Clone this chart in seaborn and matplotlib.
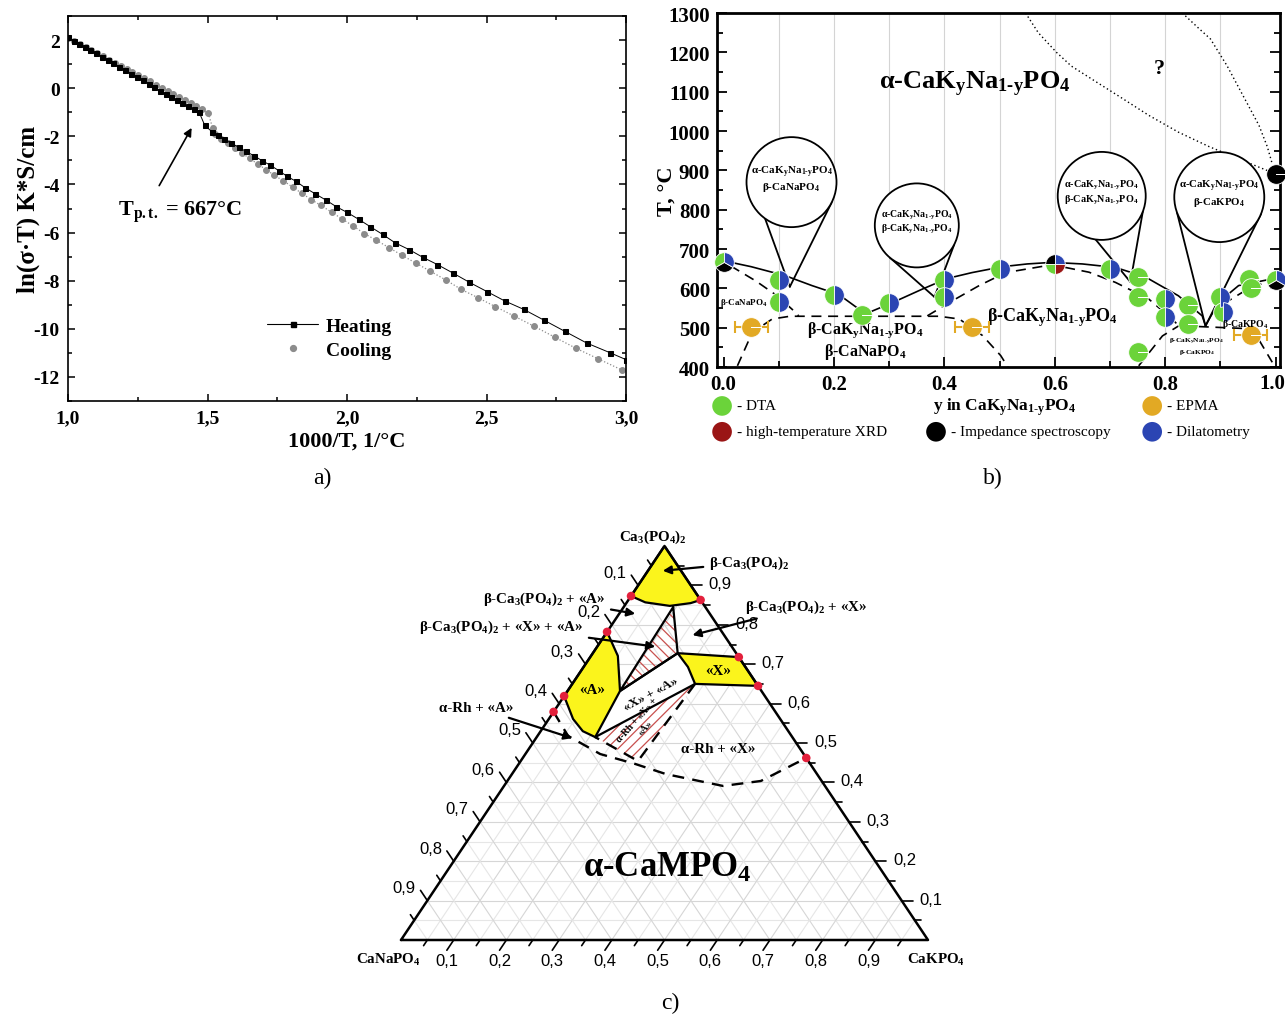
import numpy as np
import matplotlib
matplotlib.use("Agg")
import matplotlib.pyplot as plt
import seaborn as sns
from matplotlib.path import Path
from matplotlib.patches import Polygon, Ellipse
from matplotlib.lines import Line2D
from matplotlib.ticker import MultipleLocator
import matplotlib.transforms as mtrans

# ======================= panel a data =======================
heat_x = [1.000, 1.020, 1.040, 1.060, 1.080, 1.100, 1.121, 1.142, 1.163, 1.184,
          1.205, 1.226, 1.247, 1.268, 1.289, 1.310, 1.330, 1.350, 1.370, 1.390,
          1.410, 1.430, 1.450, 1.470, 1.490, 1.515, 1.537, 1.560, 1.585, 1.612,
          1.638, 1.667, 1.695, 1.725, 1.756, 1.785, 1.817, 1.849, 1.886, 1.923,
          1.961, 2.000, 2.042, 2.084, 2.128, 2.173, 2.223, 2.272, 2.324, 2.381,
          2.439, 2.503, 2.565, 2.633, 2.706, 2.780, 2.859, 2.944, 3.000]
heat_y = [2.12, 1.98, 1.85, 1.71, 1.58, 1.45, 1.31, 1.17, 1.03, 0.89,
          0.75, 0.61, 0.47, 0.33, 0.19, 0.04, -0.10, -0.23, -0.37, -0.51,
          -0.63, -0.76, -0.88, -1.00, -1.54, -1.80, -1.96, -2.13, -2.29, -2.45,
          -2.63, -2.81, -3.01, -3.20, -3.43, -3.66, -3.87, -4.13, -4.39, -4.64,
          -4.92, -5.16, -5.45, -5.76, -6.08, -6.43, -6.71, -7.03, -7.33, -7.69,
          -8.07, -8.46, -8.84, -9.19, -9.64, -10.10, -10.59, -11.00, -11.28]
cool_x = [1.000, 1.021, 1.042, 1.063, 1.084, 1.105, 1.126, 1.147, 1.168, 1.189,
          1.210, 1.231, 1.252, 1.273, 1.294, 1.315, 1.336, 1.357, 1.378, 1.399,
          1.420, 1.440, 1.460, 1.480, 1.503, 1.518, 1.526, 1.548, 1.572, 1.597,
          1.624, 1.652, 1.680, 1.710, 1.739, 1.772, 1.805, 1.837, 1.872, 1.906,
          1.946, 1.983, 2.021, 2.062, 2.105, 2.151, 2.198, 2.247, 2.299, 2.354,
          2.409, 2.468, 2.532, 2.599, 2.670, 2.745, 2.819, 2.899, 2.985]
cool_y = [2.10, 1.97, 1.84, 1.71, 1.58, 1.45, 1.32, 1.19, 1.06, 0.93,
          0.80, 0.67, 0.54, 0.41, 0.28, 0.15, 0.02, -0.11, -0.23, -0.36,
          -0.49, -0.61, -0.73, -0.86, -1.05, -1.64, -1.89, -2.10, -2.29, -2.50,
          -2.71, -2.92, -3.16, -3.38, -3.62, -3.85, -4.11, -4.36, -4.63, -4.87,
          -5.16, -5.44, -5.72, -6.04, -6.32, -6.63, -6.95, -7.27, -7.61, -7.97,
          -8.36, -8.70, -9.08, -9.47, -9.89, -10.35, -10.80, -11.24, -11.71]
a_xticks = [1.0, 1.5, 2.0, 2.5, 3.0]
a_xticklabels = ["1,0", "1,5", "2,0", "2,5", "3,0"]
a_yticks = [-12, -10, -8, -6, -4, -2, 0, 2]

# ======================= panel b data =======================
dta_x = [0.25, 0.75, 0.75, 0.75, 0.842, 0.842, 0.952, 0.955]
dta_T = [531, 629, 578, 438, 558, 510, 624, 600]
dil_x = [0.1, 0.1, 0.2, 0.3, 0.4, 0.4, 0.5, 0.7, 0.8, 0.8, 0.9, 0.905]
dil_T = [620, 565, 582, 563, 620, 578, 650, 650, 574, 527, 578, 540]
tri_x = [0.0, 1.0]
tri_T = [667, 620]
quad_x = [0.6]
quad_T = [662]
imp_x = [1.0]
imp_T = [890]
epma_x = [0.05, 0.45, 0.955]
epma_T = [502, 502, 482]
epma_err = [0.03, 0.03, 0.03]

solid_x = [0.0, 0.05, 0.112, 0.16, 0.209, 0.257, 0.308, 0.36, 0.405, 0.45, 0.505,
           0.55, 0.595, 0.65, 0.71, 0.764, 0.824, 0.867, 0.873, 0.897, 0.933, 0.994, 1.0]
solid_T = [670, 655, 632, 607, 584, 535, 565, 598, 625, 640, 655,
           662, 666, 662, 653, 629, 581, 530, 505, 565, 607, 624, 624]
dash1_x = [0.0127, 0.058, 0.097, 0.127, 0.136]
dash1_T = [657, 619, 581, 543, 530]
dash2_x = [0.025, 0.052, 0.088, 0.12, 0.39, 0.427, 0.469, 0.502, 0.515]
dash2_T = [403, 488, 522, 529, 529, 522, 480, 429, 400]
dash3_x = [0.369, 0.414, 0.463, 0.511, 0.595, 0.662, 0.71, 0.77, 0.795, 0.825,
           0.958, 0.994]
dash3_T = [530, 568, 607, 640, 660, 641, 615, 573, 543, 505, 497, 412]
dash4_x = [0.752, 0.795, 0.825]
dash4_T = [403, 479, 505]
dash5_x = [0.905, 0.94, 0.975, 1.0]
dash5_T = [560, 590, 612, 622]
dot1_x = [0.547, 0.57, 0.603, 0.63, 0.676, 0.72, 0.77, 0.824, 0.88, 0.934, 0.97, 1.0]
dot1_T = [1300, 1250, 1200, 1165, 1124, 1085, 1040, 997, 960, 929, 908, 891]
dot2_x = [0.831, 0.86, 0.882, 0.912, 0.941, 0.97, 0.985, 0.993]
dot2_T = [1300, 1262, 1234, 1166, 1090, 1014, 960, 921]
b_grid_x = [0.1, 0.2, 0.3, 0.4, 0.5, 0.6, 0.7, 0.8, 0.9]
b_xticks = [0.0, 0.2, 0.4, 0.6, 0.8, 1.0]
b_xticklabels = ["0.0", "0.2", "0.4", "0.6", "0.8", "1.0"]

# ======================= panel c data (b = CaKPO4, c = Ca3(PO4)2) =======================
beta_b = [0.0, 0.0, 0.035, 0.086, 0.122, 0.137]
beta_c = [1.0, 0.873, 0.857, 0.848, 0.855, 0.863]
regA_b = [0.0, 0.0, 0.046, 0.080, 0.111, 0.0996, 0.051]
regA_c = [0.782, 0.619, 0.561, 0.530, 0.515, 0.632, 0.721]
regX_b = [0.161, 0.282, 0.355, 0.233, 0.198]
regX_c = [0.728, 0.718, 0.645, 0.650, 0.693]
hat1_b = [0.094, 0.161, 0.0996]
hat1_c = [0.845, 0.728, 0.632]
band_b = [0.0996, 0.161, 0.198, 0.233, 0.111]
band_c = [0.632, 0.728, 0.693, 0.650, 0.515]
hat2_b = [0.111, 0.233, 0.2225]
hat2_c = [0.515, 0.650, 0.4543]
rh_b = [0.0, 0.058, 0.142, 0.2205, 0.2925, 0.4155, 0.481, 0.538]
rh_c = [0.579, 0.518, 0.472, 0.447, 0.421, 0.391, 0.4036, 0.462]
dots_b = [0.0, 0.0, 0.0, 0.0, 0.137, 0.282, 0.355, 0.538]
dots_c = [0.873, 0.782, 0.619, 0.579, 0.863, 0.718, 0.645, 0.462]
c_ticks = [0.1, 0.2, 0.3, 0.4, 0.5, 0.6, 0.7, 0.8, 0.9]
c_ticklabels = ["0,1", "0,2", "0,3", "0,4", "0,5", "0,6", "0,7", "0,8", "0,9"]

# ======================= style =======================
sns.set_theme(style="ticks")
SERIF = ["Liberation Serif", "DejaVu Serif"]
SANS = ["Liberation Sans", "DejaVu Sans"]
plt.rcParams.update({
    "font.family": SERIF,
    "mathtext.fontset": "custom",
    "mathtext.rm": "Liberation Serif",
    "mathtext.it": "Liberation Serif:italic",
    "mathtext.bf": "Liberation Serif:bold",
    "mathtext.default": "regular",
    "axes.unicode_minus": False,
    "text.color": "black",
    "axes.edgecolor": "black",
    "axes.labelcolor": "black",
    "xtick.color": "black",
    "ytick.color": "black",
    "hatch.linewidth": 0.9,
})

GREEN = "#6bd33a"
BLUE = "#2b45b3"
GOLD = "#e2a924"
DRED = "#9a1515"
YELLOW = "#fbf41c"
RED = "#e3203c"

KNA = "CaK$_y$Na$_{1‐y}$PO$_4$"   # hyphen U+2010 inside the subscript

fig = plt.figure(figsize=(12.85, 10.2), dpi=100)
W, H = 1285.0, 1020.0


def px_axes(l, t, r, b):
    return fig.add_axes([l / W, 1 - b / H, (r - l) / W, (b - t) / H])


# ======================= panel a =======================
ax = px_axes(68, 17, 626, 402)
sns.lineplot(x=heat_x, y=heat_y, ax=ax, color="black", lw=0.7, marker="s",
             markersize=3.6, markeredgecolor="black", zorder=3)
sns.lineplot(x=cool_x, y=cool_y, ax=ax, color="#8c8c8c", lw=0.9, linestyle=":",
             marker="o", markersize=4.2, markeredgecolor="#8c8c8c", zorder=2)
ax.set_xlim(1.0, 3.0)
ax.set_ylim(-13, 3)
ax.set_xticks(a_xticks, a_xticklabels, fontsize=14, fontweight="bold")
ax.set_yticks(a_yticks, [str(v) for v in a_yticks], fontsize=14, fontweight="bold")
ax.xaxis.set_minor_locator(MultipleLocator(0.25))
ax.yaxis.set_minor_locator(MultipleLocator(1))
ax.tick_params(which="both", direction="in", top=True, right=True, width=1.1)
ax.tick_params(which="major", length=5, pad=6)
ax.tick_params(which="minor", length=3)
for s in ax.spines.values():
    s.set_linewidth(1.2)
ax.set_xlabel("1000/T, 1/°C", fontsize=16, fontweight="bold")
ax.set_ylabel("ln(σ·T) K*S/cm", fontsize=18, fontweight="bold")
ax.xaxis.set_label_coords(0.5, -0.078)
ax.yaxis.set_label_coords(-0.05, 0.5)
ax.annotate("", xy=(1.448, -1.55), xytext=(1.322, -4.15),
            arrowprops=dict(arrowstyle="-|>", color="black", lw=1.2, mutation_scale=12))
ax.text(1.18, -5.1, "T$_{p.t.}$ = 667°C", fontsize=16, fontweight="bold",
        ha="left", va="center")
h1 = Line2D([], [], color="black", lw=0.8, marker="s", markersize=3.6)
h2 = Line2D([], [], color="#8c8c8c", lw=0, marker="o", markersize=4.2)
ax.legend([h1, h2], ["Heating", "Cooling"], loc="center left",
          bbox_to_anchor=(0.34, 0.163), frameon=False, handlelength=2.6,
          handletextpad=0.4, labelspacing=0.35, borderpad=0,
          prop=dict(family=SERIF, weight="bold", size=14))

# ======================= panel b =======================
bx = px_axes(717, 14, 1280, 368)
XL = (-0.012, 1.008)
YL = (400, 1300)
for g in b_grid_x:
    bx.axvline(g, color="#d4d4d4", lw=0.8, zorder=0)

bx.plot(solid_x, solid_T, color="black", lw=1.2, zorder=2)
for xs, ts in [(dash1_x, dash1_T), (dash2_x, dash2_T), (dash3_x, dash3_T),
               (dash4_x, dash4_T), (dash5_x, dash5_T)]:
    bx.plot(xs, ts, color="black", lw=1.2, ls=(0, (6, 4)), zorder=2)
for xs, ts in [(dot1_x, dot1_T), (dot2_x, dot2_T)]:
    bx.plot(xs, ts, color="black", lw=1.0, ls=(0, (1, 2)), zorder=2)

kx = (XL[1] - XL[0]) / 563.0
ky = (YL[1] - YL[0]) / 354.0


def callout(cx, cy, r, tipx, tipy, a1, a2, text, fs):
    bx.add_patch(Ellipse((cx, cy), 2 * r * kx, 2 * r * ky, fc="white", ec="black",
                         lw=1.3, zorder=5))
    for a in (a1, a2):
        px = cx + r * np.cos(np.radians(a)) * kx
        py = cy + r * np.sin(np.radians(a)) * ky
        bx.plot([px, tipx], [py, tipy], color="black", lw=1.3, zorder=4)
    bx.text(cx, cy + 4 * ky, text, ha="center", va="center", fontsize=fs,
            fontweight="bold", zorder=6, linespacing=1.15)


callout(0.123, 870, 45, 0.12, 604, 234, 333,
        "α-" + KNA + "\nβ-CaNaPO$_4$", 8)
callout(0.35, 760, 42, 0.382, 578, 230, 333,
        "α-" + KNA + "\nβ-" + KNA, 7)
callout(0.685, 835, 44, 0.737, 616, 262, 339,
        "α-" + KNA + "\nβ-" + KNA, 7.3)
callout(0.898, 832, 45, 0.873, 504, 200, 338,
        "α-" + KNA + "\nβ-CaKPO$_4$", 7.8)

S = 200


def wedges(xs, ts, parts, z=7):
    for t1, t2, col in parts:
        sns.scatterplot(x=xs, y=ts, ax=bx, marker=Path.wedge(t1, t2), s=S, color=col,
                        edgecolor="white", linewidth=0.6, zorder=z, clip_on=False,
                        legend=False)


wedges(dta_x, dta_T, [(0, 360, GREEN)])
wedges(dil_x, dil_T, [(90, 270, GREEN), (-90, 90, BLUE)])
wedges(tri_x, tri_T, [(90, 210, GREEN), (210, 330, "black"), (-30, 90, BLUE)])
wedges(quad_x, quad_T, [(90, 180, "black"), (180, 270, GREEN), (270, 360, DRED),
                        (0, 90, BLUE)])
wedges(imp_x, imp_T, [(0, 360, "black")])
bx.errorbar(epma_x, epma_T, xerr=epma_err, fmt="none", ecolor=GOLD, elinewidth=1.5,
            capsize=4, capthick=1.5, zorder=6)
wedges(epma_x, epma_T, [(0, 360, GOLD)])

bx.text(0.456, 1120, "α-" + KNA, fontsize=19, fontweight="bold",
        ha="center", va="center")
bx.text(0.79, 1160, "?", fontsize=16, fontweight="bold", ha="center", va="center")
bx.text(0.037, 565, "β-CaNaPO$_4$", fontsize=6.5, fontweight="bold", ha="center",
        va="center", zorder=8)
bx.text(0.257, 468, "β-" + KNA + "\nβ-CaNaPO$_4$", fontsize=11.5,
        fontweight="bold", ha="center", va="center", linespacing=1.1)
bx.text(0.596, 527, "β-" + KNA, fontsize=13, fontweight="bold",
        ha="center", va="center")
bx.text(0.945, 510, "β-CaKPO$_4$", fontsize=7, fontweight="bold", ha="center",
        va="center", zorder=8)
bx.text(0.857, 453, "β-" + KNA + "\nβ-CaKPO$_4$", fontsize=5.3,
        fontweight="bold", ha="center", va="center")

bx.set_xlim(*XL)
bx.set_ylim(*YL)
bx.set_xticks(b_xticks, b_xticklabels[:-1] + [""], fontsize=15, fontweight="bold")
bx.set_yticks(list(range(400, 1301, 100)), [str(v) for v in range(400, 1301, 100)],
              fontsize=15, fontweight="bold")
bx.text(b_xticks[-1] - 0.006, -0.018, b_xticklabels[-1],
        transform=mtrans.blended_transform_factory(bx.transData, bx.transAxes),
        fontsize=15, fontweight="bold", ha="center", va="top")
bx.xaxis.set_minor_locator(MultipleLocator(0.1))
bx.yaxis.set_minor_locator(MultipleLocator(50))
bx.tick_params(which="both", direction="in", right=True, width=1.3)
bx.tick_params(which="major", length=7, pad=5)
bx.tick_params(which="minor", length=4)
for s in bx.spines.values():
    s.set_linewidth(2.0)
bx.set_ylabel("T, °C", fontsize=16, fontweight="bold")
bx.yaxis.set_label_coords(-0.072, 0.5)

leg_items = [(0.009, -0.11, GREEN, "- DTA"),
             (0.009, -0.183, DRED, "- high-temperature XRD"),
             (0.389, -0.183, "black", "- Impedance spectroscopy"),
             (0.773, -0.11, GOLD, "- EPMA"),
             (0.773, -0.183, BLUE, "- Dilatometry")]
for lx, ly, col, lab in leg_items:
    bx.scatter([lx], [ly], s=200, color=col, transform=bx.transAxes, clip_on=False,
               zorder=5, edgecolor="none")
    bx.text(lx + 0.027, ly, lab, transform=bx.transAxes, fontsize=11, ha="left",
            va="center")
bx.text(0.51, -0.11, "y in " + KNA, transform=bx.transAxes,
        fontsize=12.5, fontweight="bold", ha="center", va="center")

# ======================= panel c =======================
cx_ = px_axes(401, 547, 928, 941)
cx_.set_xlim(0, 1)
cx_.set_ylim(0, 1)
cx_.axis("off")


def T(b, c):
    b = np.asarray(b, float)
    c = np.asarray(c, float)
    return b + c / 2.0, c


for i in range(1, 20):
    t = i * 0.05
    col = "#d6d6d6" if i % 2 == 0 else "#e6e6e6"
    for (b1, c1), (b2, c2) in [((0, t), (1 - t, t)), ((t, 0), (t, 1 - t)),
                               ((1 - t, 0), (0, 1 - t))]:
        xa, ya = T([b1, b2], [c1, c2])
        cx_.plot(xa, ya, color=col, lw=0.8, zorder=1)


def poly(bs, cs, **kw):
    xs, ys = T(bs, cs)
    p = Polygon(np.column_stack([xs, ys]), closed=True, **kw)
    cx_.add_patch(p)
    return xs, ys


poly(band_b, band_c, fc="white", ec="none", zorder=2)
poly(hat2_b, hat2_c, fc="white", ec="none", zorder=2)
for bs, cs in [(beta_b, beta_c), (regA_b, regA_c), (regX_b, regX_c)]:
    poly(bs, cs, fc=YELLOW, ec="black", lw=1.6, zorder=3)
poly(hat1_b, hat1_c, fill=False, ec="#c8504e", hatch="\\\\\\", lw=0, zorder=3)
poly(hat2_b, hat2_c, fill=False, ec="#c8504e", hatch="///", lw=0, zorder=3)
for seg_b, seg_c in [(hat1_b + [hat1_b[0]], hat1_c + [hat1_c[0]]),
                     ([band_b[0], band_b[1]], [band_c[0], band_c[1]]),
                     ([band_b[4], band_b[3]], [band_c[4], band_c[3]])]:
    xs, ys = T(seg_b, seg_c)
    cx_.plot(xs, ys, color="black", lw=1.6, zorder=4)
for seg_b, seg_c in [([hat2_b[1], hat2_b[2], hat2_b[0]], [hat2_c[1], hat2_c[2], hat2_c[0]]),
                     (rh_b, rh_c)]:
    xs, ys = T(seg_b, seg_c)
    cx_.plot(xs, ys, color="black", lw=1.7, ls=(0, (5, 3.5)), zorder=4)

xs, ys = T([0, 1, 0, 0], [0, 0, 1, 0])
cx_.plot(xs, ys, color="black", lw=1.8, zorder=5, clip_on=False)

L = 0.026
for i in range(1, 20):
    t = i * 0.05
    ln = L if i % 2 == 0 else L * 0.55
    cx_.plot([t, t - 0.5 * ln], [0, -ln], color="black", lw=1.2, clip_on=False, zorder=5)
    x0 = 1 - t / 2
    cx_.plot([x0, x0 + ln * 0.8], [t, t], color="black", lw=1.2, clip_on=False, zorder=5)
    x1, y1 = (1 - t) / 2, 1 - t
    cx_.plot([x1, x1 - 0.5 * ln], [y1, y1 + ln], color="black", lw=1.2, clip_on=False,
             zorder=5)
for t, lab in zip(c_ticks, c_ticklabels):
    cx_.text(t - 0.013, -0.053, lab, family=SANS, fontsize=12, ha="center", va="center")
    cx_.text(1 - t / 2 + 0.034, t + 0.004, lab, family=SANS, fontsize=12, ha="left",
             va="center")
    cx_.text((1 - t) / 2 - 0.022, 1 - t + 0.033, lab, family=SANS, fontsize=12,
             ha="right", va="center")

dx, dy = T(dots_b, dots_c)
sns.scatterplot(x=dx, y=dy, ax=cx_, color=RED, s=38, edgecolor="none", zorder=7,
                clip_on=False, legend=False)

fs = 10.8
cx_.text(0.478, 1.025, "Ca$_3$(PO$_4$)$_2$", fontsize=fs, fontweight="bold",
         ha="center", va="center")
cx_.text(-0.025, -0.048, "CaNaPO$_4$", fontsize=fs, fontweight="bold", ha="center",
         va="center")
cx_.text(1.015, -0.048, "CaKPO$_4$", fontsize=fs, fontweight="bold", ha="center",
         va="center")
arrow = dict(arrowstyle="-|>", color="black", lw=1.6, mutation_scale=12)
cx_.annotate("β-Ca$_3$(PO$_4$)$_2$", xy=(0.4915, 0.9365), xytext=(0.585, 0.958),
             fontsize=fs, fontweight="bold", ha="left", va="center", arrowprops=arrow)
cx_.annotate("β-Ca$_3$(PO$_4$)$_2$ + «A»", xy=(0.4497, 0.827), xytext=(0.387, 0.868),
             fontsize=fs, fontweight="bold", ha="right", va="center", arrowprops=arrow)
cx_.annotate("β-Ca$_3$(PO$_4$)$_2$ + «X»", xy=(0.548, 0.772), xytext=(0.652, 0.848),
             fontsize=fs, fontweight="bold", ha="left", va="center", arrowprops=arrow)
cx_.annotate("β-Ca$_3$(PO$_4$)$_2$ + «X» + «A»", xy=(0.4877, 0.7437),
             xytext=(0.345, 0.797), fontsize=fs, fontweight="bold", ha="right",
             va="center", arrowprops=arrow)
cx_.annotate("α-Rh + «A»", xy=(0.330, 0.510), xytext=(0.2125, 0.591), fontsize=fs,
             fontweight="bold", ha="right", va="center", arrowprops=arrow)
cx_.text(0.6015, 0.485, "α-Rh + «X»", fontsize=fs, fontweight="bold", ha="center",
         va="center", zorder=8)
cx_.text(0.3624, 0.637, "«A»", fontsize=fs, fontweight="bold", ha="center",
         va="center", zorder=8)
cx_.text(0.6015, 0.683, "«X»", fontsize=fs, fontweight="bold", ha="center",
         va="center", zorder=8)
cx_.text(0.4744, 0.627, "«X» + «A»", fontsize=9.5, fontweight="bold", ha="center",
         va="center", rotation=28, zorder=8)
cx_.text(0.455, 0.55, "α-Rh + «X» +\n«A»", fontsize=7, fontweight="bold", ha="center",
         va="center", rotation=48, zorder=8, linespacing=1.3)
cx_.text(0.5047, 0.185, "α-CaMPO$_4$", fontsize=25, fontweight="bold", ha="center",
         va="center", zorder=8)

fig.text(322 / W, 1 - 478 / H, "a)", fontsize=17, ha="center", va="center")
fig.text(993 / W, 1 - 478 / H, "b)", fontsize=17, ha="center", va="center")
fig.text(670 / W, 1 - 1003 / H, "c)", fontsize=17, ha="center", va="center")

fig.savefig("out.png", dpi=100)
